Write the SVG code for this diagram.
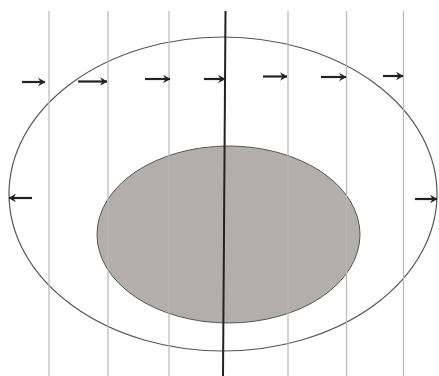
<svg xmlns="http://www.w3.org/2000/svg" width="439" height="376" viewBox="0 0 439 376">
<defs>
<marker id="ah" markerWidth="10" markerHeight="10" refX="8.5" refY="5" orient="auto" markerUnits="userSpaceOnUse">
<path d="M1.5,0.8 L9,5 L1.5,9.2 L4,5 Z" fill="#222"/>
</marker>
</defs>
<style>
.grid{stroke:#b8b8b8;stroke-width:1.2;fill:none}
.arr{stroke:#222;stroke-width:2.2;fill:none;marker-end:url(#ah)}
</style>
<rect width="439" height="376" fill="#fff"/>
<g id="core"><ellipse cx="228.5" cy="234.5" rx="131.5" ry="88.5" fill="#b2aeac" stroke="#555" stroke-width="1"/></g>
<g id="outer"><ellipse cx="223" cy="194" rx="214" ry="157" fill="none" stroke="#555" stroke-width="1.2"/></g>
<g id="lines">
<line class="grid" x1="49" y1="11" x2="49" y2="376"/>
<line class="grid" x1="108" y1="11" x2="108" y2="376"/>
<line class="grid" x1="169" y1="11" x2="169" y2="376"/>
<line class="grid" x1="288" y1="11" x2="288" y2="376"/>
<line class="grid" x1="346.5" y1="11" x2="346.5" y2="376"/>
<line class="grid" x1="403.5" y1="11" x2="403.5" y2="376"/>
<line x1="225.5" y1="11" x2="223" y2="376" stroke="#222" stroke-width="2"/>
</g>
<g id="connectors">
<line class="arr" x1="22" y1="82" x2="45" y2="82"/>
<line class="arr" x1="78" y1="81.5" x2="107" y2="81.5"/>
<line class="arr" x1="145" y1="79" x2="170" y2="79"/>
<line class="arr" x1="204" y1="79" x2="225" y2="79"/>
<line class="arr" x1="263" y1="76.5" x2="287" y2="76.5"/>
<line class="arr" x1="321" y1="77" x2="346" y2="77"/>
<line class="arr" x1="383" y1="76" x2="403" y2="76"/>
<line class="arr" x1="32" y1="198" x2="9" y2="198"/>
<line class="arr" x1="415" y1="199" x2="437" y2="199"/>
</g>
</svg>
